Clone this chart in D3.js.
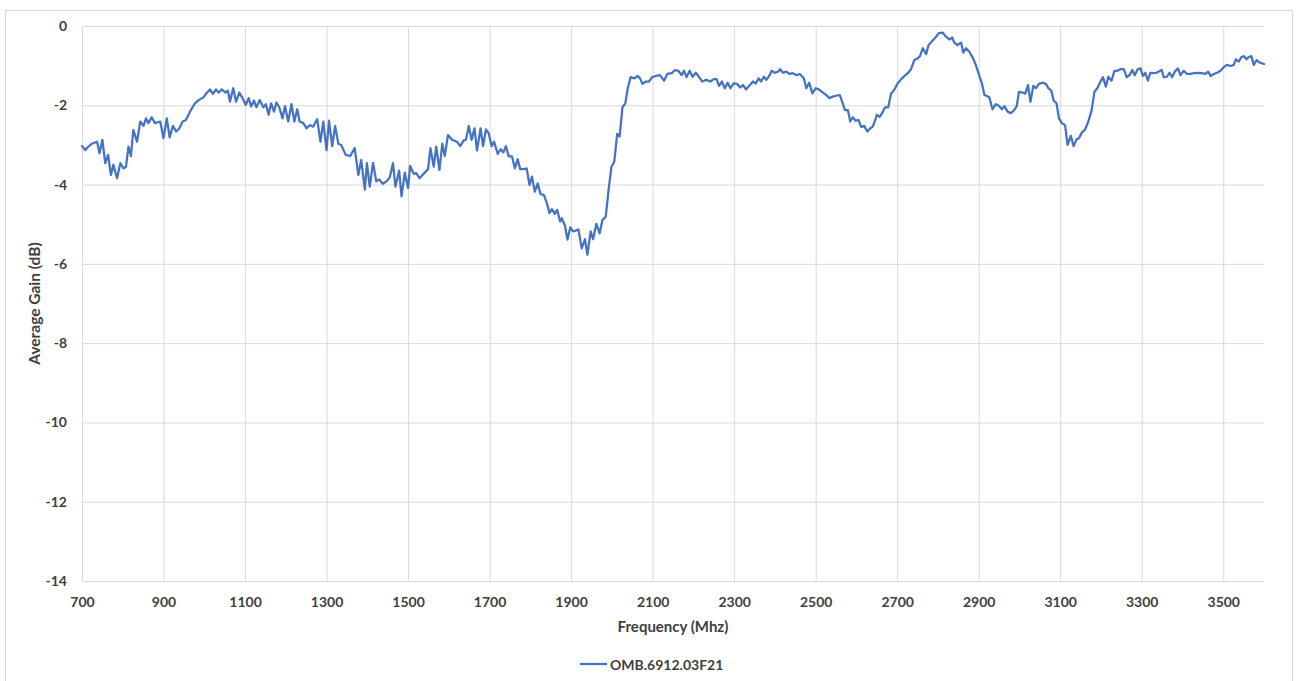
<!DOCTYPE html>
<html>
<head>
<meta charset="utf-8">
<script src="https://cdn.jsdelivr.net/npm/d3@7"></script>
<style>
  html, body { margin: 0; padding: 0; background: #ffffff; }
  svg { display: block; }
  text { font-family: Lato, "Open Sans", sans-serif; }
</style>
</head>
<body>
<svg id="chart" width="1298" height="681"></svg>
<script>
// ---------- data ----------
const seriesName = "OMB.6912.03F21";
const xTickValues = [700, 900, 1100, 1300, 1500, 1700, 1900, 2100, 2300, 2500, 2700, 2900, 3100, 3300, 3500];
const yTickValues = [0, -2, -4, -6, -8, -10, -12, -14];
const xTitle = "Frequency (Mhz)";
const yTitle = "Average Gain (dB)";

const freqMHz = [
  700, 708, 716, 724, 737, 743, 750, 757, 764, 771, 777, 786, 794, 802, 808, 814, 820, 826, 835, 843,
  851, 857, 863, 871, 879, 892, 900, 908, 915, 923, 931, 939, 947, 955, 965, 977, 986, 998, 1004, 1014,
  1021, 1029, 1035, 1043, 1052, 1058, 1063, 1071, 1078, 1086, 1094, 1102, 1109, 1115, 1122, 1128, 1136, 1145, 1151, 1158,
  1164, 1171, 1177, 1184, 1192, 1198, 1206, 1214, 1221, 1228, 1234, 1243, 1251, 1259, 1267, 1277, 1285, 1292, 1300, 1306,
  1314, 1321, 1329, 1336, 1347, 1358, 1369, 1378, 1385, 1394, 1399, 1406, 1414, 1422, 1429,
  1438, 1447, 1455, 1463, 1469, 1478, 1484, 1492, 1500, 1505, 1514, 1520, 1528, 1538, 1549, 1555, 1563, 1569, 1577, 1584,
  1590, 1598, 1608, 1620, 1628, 1636, 1642, 1649, 1656, 1663, 1669, 1678, 1684, 1691, 1698, 1705, 1711, 1720, 1727, 1734,
  1740, 1747, 1755, 1762, 1769, 1775, 1785, 1791, 1798, 1804, 1811, 1818, 1825, 1833, 1840, 1847, 1853, 1860, 1866, 1873,
  1877, 1885, 1891, 1898, 1905, 1912, 1918, 1926, 1934, 1940, 1948, 1954, 1962, 1970, 1977, 1985, 1992, 1999, 2006, 2013,
  2019, 2026, 2033, 2039, 2046, 2055, 2063, 2069, 2075, 2083, 2091, 2099, 2108,
  2118, 2128, 2136, 2147, 2155, 2163, 2171, 2177, 2183, 2191, 2198, 2206, 2214, 2222, 2232, 2242, 2250, 2257, 2263, 2270,
  2277, 2284, 2291, 2299, 2307, 2315, 2322, 2329, 2337, 2346, 2353, 2360, 2366, 2373, 2379, 2386, 2392, 2400, 2408, 2413,
  2420, 2428, 2436, 2444, 2453, 2461, 2471, 2477, 2484, 2492, 2500, 2508, 2518, 2526, 2534, 2542, 2550, 2559, 2565, 2572,
  2579, 2585, 2591, 2598, 2605, 2612, 2619, 2627, 2634, 2640, 2647, 2650, 2657, 2663, 2670, 2678, 2685, 2693, 2701, 2710,
  2718, 2726, 2734, 2742, 2750, 2756, 2763, 2771, 2777, 2785, 2794, 2802, 2812, 2818,
  2828, 2835, 2840, 2848, 2857, 2862, 2869, 2877, 2885, 2893, 2901, 2908, 2914, 2919, 2926, 2934, 2942, 2950, 2957, 2963,
  2971, 2979, 2987, 2993, 2999, 3008, 3014, 3021, 3027, 3034, 3040, 3048, 3056, 3065, 3071, 3078, 3084, 3091, 3097, 3104,
  3112, 3118, 3126, 3133, 3140, 3146, 3153, 3161, 3169, 3177, 3184, 3191, 3199, 3205, 3212, 3218, 3226, 3233, 3240, 3248,
  3256, 3263, 3270, 3277, 3283, 3290, 3297, 3303, 3309, 3315, 3321, 3327, 3336, 3342, 3349, 3354, 3362, 3368, 3375, 3381,
  3389, 3395, 3403, 3411, 3420, 3428, 3438, 3448, 3456, 3463, 3469, 3477, 3485, 3493, 3501, 3509, 3518, 3526, 3531, 3538,
  3544, 3551, 3557, 3562, 3569, 3575, 3582, 3589, 3600
];

const gainDb = [
  -3.03, -3.13, -3.04, -2.97, -2.92, -3.21, -2.87, -3.46, -3.25, -3.76, -3.50, -3.84, -3.46, -3.59, -3.55, -3.04, -3.28, -2.62, -2.92, -2.41,
  -2.52, -2.33, -2.45, -2.30, -2.45, -2.41, -2.83, -2.33, -2.81, -2.52, -2.66, -2.58, -2.41, -2.37, -2.16, -1.95, -1.87, -1.80, -1.71, -1.60,
  -1.71, -1.60, -1.68, -1.60, -1.68, -1.63, -1.91, -1.57, -1.91, -1.68, -1.82, -1.99, -1.82, -2.03, -1.88, -2.05, -1.87, -2.05, -1.97, -2.24,
  -1.95, -2.16, -1.93, -2.05, -2.33, -2.02, -2.41, -1.97, -2.41, -2.10, -2.41, -2.45, -2.58, -2.50, -2.54, -2.35, -2.92, -2.41, -3.13, -2.39,
  -3.03, -2.52, -2.97, -3.00, -3.25, -3.28, -3.08, -3.76, -3.38, -4.13, -3.46, -4.05, -3.45, -3.92, -3.87,
  -3.98, -3.92, -3.82, -3.46, -4.05, -3.65, -4.30, -3.70, -4.09, -3.53, -3.73, -3.71, -3.84, -3.73, -3.61, -3.08, -3.55, -3.04, -3.63, -2.97,
  -3.28, -2.75, -2.87, -2.92, -3.03, -2.89, -2.87, -2.52, -2.87, -2.58, -3.14, -2.58, -3.03, -2.61, -2.71, -3.03, -2.92, -3.23, -3.11, -3.19,
  -3.03, -3.29, -3.29, -3.59, -3.36, -3.61, -3.61, -3.59, -4.01, -3.80, -4.18, -3.97, -4.24, -4.26, -4.45, -4.72, -4.62, -4.74, -4.64, -4.93,
  -4.85, -5.04, -5.39, -5.08, -5.18, -5.16, -5.13, -5.61, -5.38, -5.77, -5.18, -5.38, -4.99, -5.23, -4.89, -4.81, -4.13, -3.55, -3.42, -2.72,
  -2.79, -2.05, -1.95, -1.57, -1.29, -1.32, -1.26, -1.32, -1.46, -1.40, -1.40, -1.29, -1.26,
  -1.24, -1.38, -1.21, -1.19, -1.11, -1.13, -1.24, -1.13, -1.29, -1.13, -1.28, -1.18, -1.29, -1.40, -1.36, -1.40, -1.34, -1.34, -1.51, -1.40,
  -1.57, -1.43, -1.57, -1.45, -1.46, -1.55, -1.49, -1.60, -1.51, -1.40, -1.45, -1.32, -1.40, -1.28, -1.36, -1.26, -1.13, -1.18, -1.15, -1.09,
  -1.18, -1.15, -1.21, -1.19, -1.24, -1.21, -1.32, -1.57, -1.43, -1.70, -1.57, -1.60, -1.68, -1.74, -1.82, -1.78, -1.76, -1.74, -1.91, -2.12,
  -2.12, -2.41, -2.30, -2.39, -2.37, -2.55, -2.52, -2.66, -2.58, -2.54, -2.35, -2.24, -2.29, -2.20, -2.05, -2.05, -1.71, -1.61, -1.45, -1.34,
  -1.26, -1.19, -1.09, -0.86, -0.82, -0.76, -0.56, -0.71, -0.48, -0.39, -0.29, -0.18, -0.17, -0.25,
  -0.34, -0.29, -0.42, -0.48, -0.42, -0.67, -0.56, -0.65, -0.79, -0.98, -1.24, -1.45, -1.74, -1.76, -1.80, -2.10, -1.97, -2.02, -2.10, -2.02,
  -2.16, -2.20, -2.12, -2.03, -1.66, -1.68, -1.71, -1.49, -1.91, -1.51, -1.57, -1.46, -1.43, -1.46, -1.57, -1.63, -1.88, -1.95, -2.33, -2.45,
  -2.50, -3.00, -2.77, -3.03, -2.86, -2.83, -2.69, -2.61, -2.41, -2.13, -1.66, -1.57, -1.40, -1.29, -1.53, -1.28, -1.38, -1.13, -1.13, -1.09,
  -1.09, -1.29, -1.24, -1.11, -1.24, -1.09, -1.07, -1.26, -1.18, -1.38, -1.18, -1.19, -1.18, -1.15, -1.11, -1.29, -1.28, -1.18, -1.29, -1.15,
  -1.07, -1.24, -1.13, -1.21, -1.21, -1.19, -1.18, -1.19, -1.21, -1.15, -1.26, -1.21, -1.18, -1.13, -1.04, -0.98, -1.01, -0.98, -0.84, -0.90,
  -0.79, -0.76, -0.84, -0.79, -0.76, -0.98, -0.86, -0.92, -0.96
];

// ---------- layout ----------
const W = 1298, H = 681;
const plot = { left: 82, right: 1264, top: 26, bottom: 581 };
const lineColor = "#4472C4";
const gridColor = "#d9d9d9";
const textColor = "#404040";

const svg = d3.select("#chart");

// chart area border
svg.append("rect")
  .attr("x", 5.5).attr("y", 10.5)
  .attr("width", 1287).attr("height", 700)
  .attr("fill", "#ffffff")
  .attr("stroke", gridColor).attr("stroke-width", 1);

const x = d3.scaleLinear().domain([700, 3600]).range([plot.left, plot.right]);
const y = d3.scaleLinear().domain([-14, 0]).range([plot.bottom, plot.top]);

// horizontal gridlines + y labels
const yAxis = d3.axisLeft(y)
  .tickValues(yTickValues)
  .tickSize(-(plot.right - plot.left))
  .tickPadding(15)
  .tickFormat(d3.format("d"));
const gy = svg.append("g")
  .attr("transform", `translate(${plot.left},0)`)
  .call(yAxis);
gy.select(".domain").remove();
gy.selectAll(".tick line").attr("stroke", gridColor).attr("stroke-width", 1);
gy.selectAll(".tick text")
  .attr("fill", textColor)
  .style("font-size", "14px").style("font-weight", "bold")
  .text(d => String(d));

// vertical gridlines + x labels
const xAxis = d3.axisBottom(x)
  .tickValues(xTickValues)
  .tickSize(-(plot.bottom - plot.top))
  .tickPadding(16)
  .tickFormat(d3.format("d"));
const gx = svg.append("g")
  .attr("transform", `translate(0,${plot.bottom})`)
  .call(xAxis);
gx.select(".domain").remove();
gx.selectAll(".tick line").attr("stroke", gridColor).attr("stroke-width", 1);
gx.selectAll(".tick text")
  .attr("fill", textColor)
  .style("font-size", "14px").style("font-weight", "bold");

// data line
const data = freqMHz.map((f, i) => ({ f, g: gainDb[i] }));
const line = d3.line().x(d => x(d.f)).y(d => y(d.g));
svg.append("path")
  .datum(data)
  .attr("d", line)
  .attr("fill", "none")
  .attr("stroke", lineColor)
  .attr("stroke-width", 2.25)
  .attr("stroke-linejoin", "round")
  .attr("stroke-linecap", "round");

// axis titles
svg.append("text")
  .attr("x", (plot.left + plot.right) / 2)
  .attr("y", 626)
  .attr("text-anchor", "middle")
  .attr("dominant-baseline", "central")
  .attr("fill", textColor)
  .style("font-size", "15px").style("font-weight", "bold")
  .text(xTitle);

svg.append("text")
  .attr("transform", `translate(34,${(plot.top + plot.bottom) / 2}) rotate(-90)`)
  .attr("text-anchor", "middle")
  .attr("dominant-baseline", "central")
  .attr("fill", textColor)
  .style("font-size", "15.5px").style("font-weight", "bold")
  .text(yTitle);

// legend
const legend = svg.append("g").attr("transform", "translate(580,664)");
legend.append("line")
  .attr("x1", 0).attr("x2", 27).attr("y1", 0).attr("y2", 0)
  .attr("stroke", lineColor).attr("stroke-width", 2.25);
legend.append("text")
  .attr("x", 30).attr("y", 0)
  .attr("dominant-baseline", "central")
  .attr("fill", textColor)
  .style("font-size", "14px").style("font-weight", "bold")
  .text(seriesName);
</script>
</body>
</html>
